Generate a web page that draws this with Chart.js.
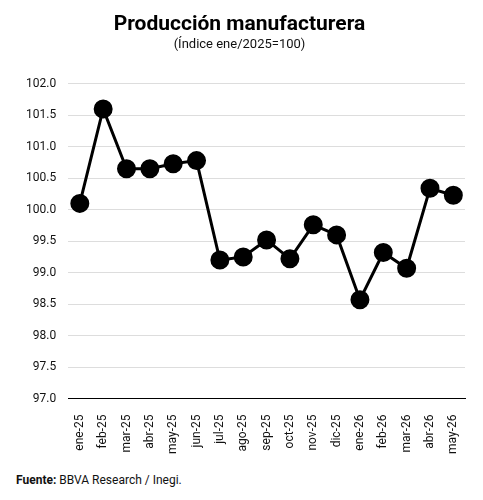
<!DOCTYPE html>
<html>
<head>
<meta charset="utf-8">
<script src="https://cdn.jsdelivr.net/npm/chart.js@4/dist/chart.umd.min.js"></script>
<style>
  html, body { margin: 0; padding: 0; background: #fff; }
  #wrap { position: relative; width: 483px; height: 500px; }
  canvas { position: absolute; left: 0; top: 0; }
  #src { position: absolute; left: 16px; top: 473px; font: 12px Roboto, sans-serif; color: #111; }
</style>
</head>
<body>
<div id="wrap">
  <canvas id="c" width="483" height="462"></canvas>
  <div id="src"><b>Fuente:</b> BBVA Research / Inegi.</div>
</div>
<script>
// Producción manufacturera, índice ene/2025=100
var MONTHS = ["ene-25", "feb-25", "mar-25", "abr-25", "may-25", "jun-25", "jul-25", "ago-25",
  "sep-25", "oct-25", "nov-25", "dic-25", "ene-26", "feb-26", "mar-26", "abr-26", "may-26"];
var INDEX = [100.1, 101.6, 100.65, 100.65, 100.73, 100.78, 99.2, 99.25,
  99.52, 99.22, 99.76, 99.6, 98.57, 99.32, 99.07, 100.34, 100.23];
var Y_MIN = 97.0, Y_MAX = 102.0, Y_STEP = 0.5;

new Chart(document.getElementById("c"), {
  type: "line",
  data: {
    labels: MONTHS,
    datasets: [{
      data: INDEX, borderColor: "#000", backgroundColor: "#000",
      borderWidth: 3, pointRadius: 8, pointHoverRadius: 8, tension: 0
    }]
  },
  options: {
    responsive: false, animation: false,
    layout: { padding: { left: 14, right: 18, top: 0, bottom: 0 } },
    scales: {
      x: {
        offset: true,
        grid: { display: false },
        border: { color: "#000", width: 1 },
        ticks: { padding: 8, color: "#111", font: { family: "Roboto", size: 12 }, maxRotation: 90, minRotation: 90, autoSkip: false }
      },
      y: {
        min: Y_MIN, max: Y_MAX,
        grid: { color: "#ddd", drawTicks: false },
        border: { display: false },
        ticks: { stepSize: Y_STEP, padding: 12, color: "#111", font: { family: "Roboto", size: 12 },
          callback: function (v) { return v.toFixed(1); } }
      }
    },
    plugins: {
      legend: { display: false },
      tooltip: { enabled: false },
      title: { display: true, text: "Producción manufacturera", color: "#000",
        font: { family: "Roboto", size: 21, weight: "bold" }, padding: { top: 12, bottom: 0 } },
      subtitle: { display: true, text: "(Índice ene/2025=100)", color: "#111",
        font: { family: "Roboto", size: 13 }, padding: { top: 0, bottom: 31 } }
    }
  }
});
</script>
</body>
</html>
